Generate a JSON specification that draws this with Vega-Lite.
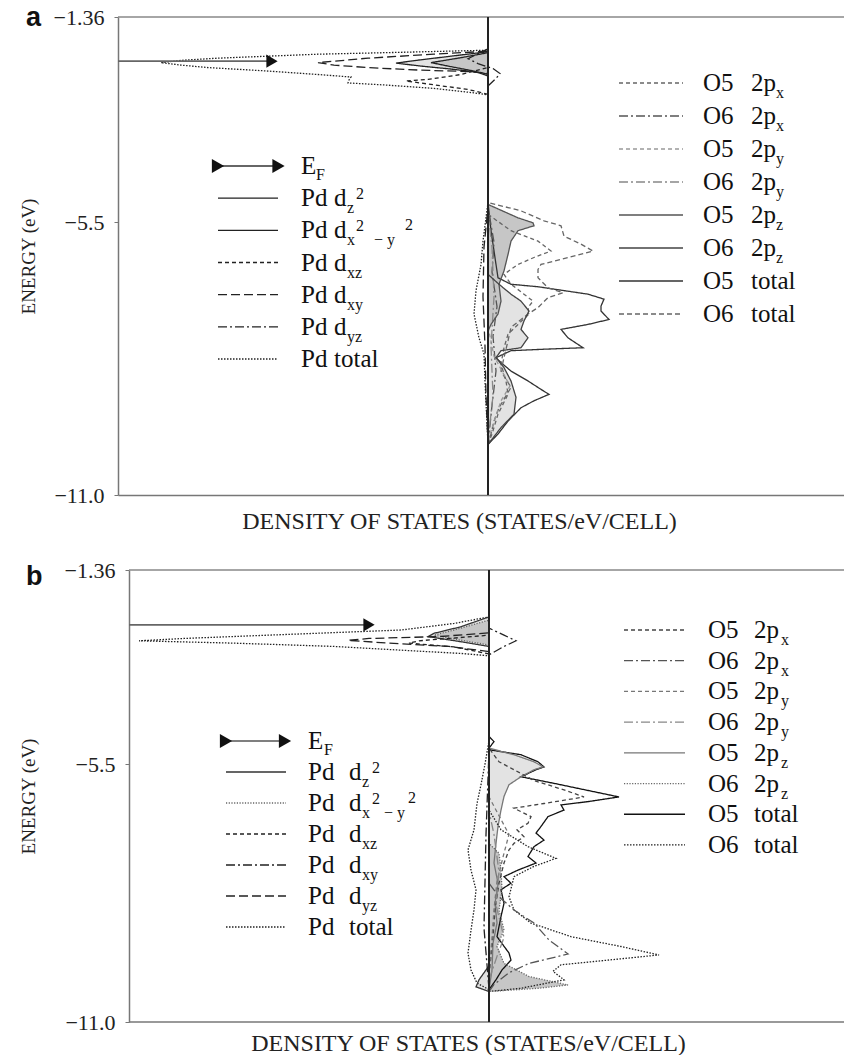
{
"$schema":"https://vega.github.io/schema/vega-lite/v6.json",
"padding":{"left":19,"top":3,"right":0,"bottom":0},
"config":{"view":{"stroke":null},"font":"Liberation Serif, DejaVu Serif, serif"},
"spacing":26,
"columns":1,
"resolve":{"scale":{"color":"independent","strokeDash":"independent"}},
"datasets":{
"ca":[
{"s":"Pd total","E":-2.03,"D":0},{"s":"Pd total","E":-2.08,"D":-10.4},{"s":"Pd total","E":-2.11,"D":-17},{"s":"Pd total","E":-2.15,"D":-22},{"s":"Pd total","E":-2.19,"D":-27},{"s":"Pd total","E":-2.23,"D":-30.4},{"s":"Pd total","E":-2.28,"D":-32.7},{"s":"Pd total","E":-2.33,"D":-30.7},{"s":"Pd total","E":-2.38,"D":-28},{"s":"Pd total","E":-2.45,"D":-22},{"s":"Pd total","E":-2.52,"D":-17},{"s":"Pd total","E":-2.57,"D":-13.7},{"s":"Pd total","E":-2.63,"D":-13.9},{"s":"Pd total","E":-2.69,"D":-14},{"s":"Pd total","E":-2.73,"D":-10.4},{"s":"Pd total","E":-2.8,"D":-5.4},{"s":"Pd total","E":-2.89,"D":-1.4},{"s":"Pd total","E":-2.93,"D":0},{"s":"Pd total","E":-5.1,"D":0},{"s":"Pd total","E":-5.88,"D":-0.5},{"s":"Pd total","E":-6.35,"D":-0.7},{"s":"Pd total","E":-6.88,"D":-1.2},{"s":"Pd total","E":-7.35,"D":-1.4},{"s":"Pd total","E":-7.83,"D":-0.9},{"s":"Pd total","E":-8.16,"D":-0.4},{"s":"Pd total","E":-8.7,"D":-0.3},{"s":"Pd total","E":-9.98,"D":0},
{"s":"Pd dz2","E":-2.06,"D":0},{"s":"Pd dz2","E":-2.15,"D":-3.7},{"s":"Pd dz2","E":-2.23,"D":-7},{"s":"Pd dz2","E":-2.29,"D":-9.2},{"s":"Pd dz2","E":-2.35,"D":-6.7},{"s":"Pd dz2","E":-2.41,"D":-3.7},{"s":"Pd dz2","E":-2.48,"D":-0.7},{"s":"Pd dz2","E":-2.52,"D":0},
{"s":"Pd dx2-y2","E":-2.08,"D":0},{"s":"Pd dx2-y2","E":-2.18,"D":-2.7},{"s":"Pd dx2-y2","E":-2.28,"D":-5.7},{"s":"Pd dx2-y2","E":-2.35,"D":-4},{"s":"Pd dx2-y2","E":-2.45,"D":-1.4},{"s":"Pd dx2-y2","E":-2.55,"D":0},
{"s":"Pd dxz","E":-2.38,"D":0},{"s":"Pd dxz","E":-2.52,"D":-2.7},{"s":"Pd dxz","E":-2.62,"D":-6},{"s":"Pd dxz","E":-2.65,"D":-8.2},{"s":"Pd dxz","E":-2.72,"D":-5.7},{"s":"Pd dxz","E":-2.82,"D":-2},{"s":"Pd dxz","E":-2.92,"D":0},
{"s":"Pd dxy","E":-2.05,"D":0},{"s":"Pd dxy","E":-2.11,"D":-5.4},{"s":"Pd dxy","E":-2.19,"D":-12},{"s":"Pd dxy","E":-2.28,"D":-17},{"s":"Pd dxy","E":-2.33,"D":-15.4},{"s":"Pd dxy","E":-2.38,"D":-12},{"s":"Pd dxy","E":-2.43,"D":-7},{"s":"Pd dxy","E":-2.46,"D":-2},{"s":"Pd dxy","E":-2.5,"D":0},{"s":"Pd dxy","E":-5.2,"D":0},{"s":"Pd dxy","E":-6,"D":-0.4},{"s":"Pd dxy","E":-7,"D":-0.5},{"s":"Pd dxy","E":-8,"D":-0.3},{"s":"Pd dxy","E":-9,"D":-0.2},{"s":"Pd dxy","E":-9.98,"D":0},
{"s":"Pd dyz","E":-2,"D":0},{"s":"Pd dyz","E":-2.1,"D":-1},{"s":"Pd dyz","E":-2.2,"D":-2},{"s":"Pd dyz","E":-2.3,"D":-1},{"s":"Pd dyz","E":-2.4,"D":0.5},{"s":"Pd dyz","E":-2.5,"D":1.2},{"s":"Pd dyz","E":-2.6,"D":0.8},{"s":"Pd dyz","E":-2.75,"D":0},
{"s":"O5 total","E":-5.1,"D":0},{"s":"O5 total","E":-5.67,"D":0.3},{"s":"O5 total","E":-6.35,"D":0.8},{"s":"O5 total","E":-6.62,"D":1},{"s":"O5 total","E":-6.75,"D":2.3},{"s":"O5 total","E":-6.8,"D":5},{"s":"O5 total","E":-6.95,"D":10},{"s":"O5 total","E":-7.05,"D":11.6},{"s":"O5 total","E":-7.19,"D":11.3},{"s":"O5 total","E":-7.29,"D":11.3},{"s":"O5 total","E":-7.46,"D":12.1},{"s":"O5 total","E":-7.56,"D":10},{"s":"O5 total","E":-7.66,"D":7.3},{"s":"O5 total","E":-7.83,"D":8},{"s":"O5 total","E":-8.03,"D":9.5},{"s":"O5 total","E":-8.06,"D":5.6},{"s":"O5 total","E":-8.09,"D":2.3},{"s":"O5 total","E":-8.23,"D":0.8},{"s":"O5 total","E":-8.33,"D":1.3},{"s":"O5 total","E":-8.5,"D":2.3},{"s":"O5 total","E":-8.7,"D":4},{"s":"O5 total","E":-8.87,"D":5.3},{"s":"O5 total","E":-8.97,"D":6.1},{"s":"O5 total","E":-9.1,"D":4.6},{"s":"O5 total","E":-9.24,"D":3.3},{"s":"O5 total","E":-9.51,"D":2},{"s":"O5 total","E":-9.77,"D":1},{"s":"O5 total","E":-9.98,"D":0},
{"s":"O6 total","E":-5.1,"D":0},{"s":"O6 total","E":-5.27,"D":3.3},{"s":"O6 total","E":-5.47,"D":5.6},{"s":"O6 total","E":-5.57,"D":7.3},{"s":"O6 total","E":-5.78,"D":7.6},{"s":"O6 total","E":-5.94,"D":9.3},{"s":"O6 total","E":-6.08,"D":10.5},{"s":"O6 total","E":-6.21,"D":8},{"s":"O6 total","E":-6.35,"D":5.3},{"s":"O6 total","E":-6.45,"D":5},{"s":"O6 total","E":-6.62,"D":5},{"s":"O6 total","E":-6.82,"D":6},{"s":"O6 total","E":-6.92,"D":7.5},{"s":"O6 total","E":-7.02,"D":6},{"s":"O6 total","E":-7.22,"D":5},{"s":"O6 total","E":-7.35,"D":4},{"s":"O6 total","E":-7.62,"D":2.3},{"s":"O6 total","E":-7.89,"D":2},{"s":"O6 total","E":-8.23,"D":1.6},{"s":"O6 total","E":-8.5,"D":1.3},{"s":"O6 total","E":-8.83,"D":2.3},{"s":"O6 total","E":-9.24,"D":1.1},{"s":"O6 total","E":-9.51,"D":0.6},{"s":"O6 total","E":-9.77,"D":0.3},{"s":"O6 total","E":-9.98,"D":0},
{"s":"O5 2px","E":-5.34,"D":0},{"s":"O5 2px","E":-5.67,"D":2.3},{"s":"O5 2px","E":-5.88,"D":5},{"s":"O5 2px","E":-6.08,"D":6.3},{"s":"O5 2px","E":-6.21,"D":4.6},{"s":"O5 2px","E":-6.35,"D":3},{"s":"O5 2px","E":-6.55,"D":1.6},{"s":"O5 2px","E":-6.75,"D":2.3},{"s":"O5 2px","E":-6.95,"D":3.6},{"s":"O5 2px","E":-7.09,"D":4.5},{"s":"O5 2px","E":-7.22,"D":4},{"s":"O5 2px","E":-7.35,"D":4.1},{"s":"O5 2px","E":-7.56,"D":3},{"s":"O5 2px","E":-7.76,"D":2},{"s":"O5 2px","E":-8.03,"D":1.6},{"s":"O5 2px","E":-8.36,"D":1.3},{"s":"O5 2px","E":-8.7,"D":1.8},{"s":"O5 2px","E":-8.97,"D":2},{"s":"O5 2px","E":-9.37,"D":1},{"s":"O5 2px","E":-9.77,"D":0.4},{"s":"O5 2px","E":-9.98,"D":0},
{"s":"O6 2px","E":-5.2,"D":0},{"s":"O6 2px","E":-5.9,"D":0.6},{"s":"O6 2px","E":-6.5,"D":0.4},{"s":"O6 2px","E":-7.2,"D":0.9},{"s":"O6 2px","E":-7.8,"D":0.5},{"s":"O6 2px","E":-8.5,"D":0.8},{"s":"O6 2px","E":-9.2,"D":0.4},{"s":"O6 2px","E":-9.98,"D":0},
{"s":"O5 2py","E":-7.6,"D":0},{"s":"O5 2py","E":-8.2,"D":0.6},{"s":"O5 2py","E":-8.8,"D":2.2},{"s":"O5 2py","E":-9.1,"D":1.3},{"s":"O5 2py","E":-9.4,"D":0.8},{"s":"O5 2py","E":-9.9,"D":0},
{"s":"O6 2py","E":-5.3,"D":0},{"s":"O6 2py","E":-6,"D":0.4},{"s":"O6 2py","E":-7,"D":0.6},{"s":"O6 2py","E":-8,"D":0.3},{"s":"O6 2py","E":-9,"D":0.5},{"s":"O6 2py","E":-9.9,"D":0},
{"s":"O5 2pz","E":-5.14,"D":0},{"s":"O5 2pz","E":-5.41,"D":3},{"s":"O5 2pz","E":-5.51,"D":4.5},{"s":"O5 2pz","E":-5.57,"D":4.6},{"s":"O5 2pz","E":-5.67,"D":3},{"s":"O5 2pz","E":-5.88,"D":2.3},{"s":"O5 2pz","E":-6.15,"D":2},{"s":"O5 2pz","E":-6.48,"D":1.6},{"s":"O5 2pz","E":-6.75,"D":1.1},{"s":"O5 2pz","E":-7.09,"D":1.3},{"s":"O5 2pz","E":-7.35,"D":1},{"s":"O5 2pz","E":-7.56,"D":0.3},{"s":"O5 2pz","E":-7.69,"D":0},
{"s":"O6 2pz","E":-6.55,"D":0},{"s":"O6 2pz","E":-6.75,"D":1.1},{"s":"O6 2pz","E":-6.95,"D":2.3},{"s":"O6 2pz","E":-7.09,"D":3.3},{"s":"O6 2pz","E":-7.29,"D":4.1},{"s":"O6 2pz","E":-7.49,"D":3.6},{"s":"O6 2pz","E":-7.66,"D":3.3},{"s":"O6 2pz","E":-7.83,"D":4},{"s":"O6 2pz","E":-8.03,"D":3.3},{"s":"O6 2pz","E":-8.09,"D":1.3},{"s":"O6 2pz","E":-8.23,"D":0.8},{"s":"O6 2pz","E":-8.43,"D":1.6},{"s":"O6 2pz","E":-8.7,"D":2.3},{"s":"O6 2pz","E":-9.03,"D":2.8},{"s":"O6 2pz","E":-9.37,"D":2.6},{"s":"O6 2pz","E":-9.64,"D":1.3},{"s":"O6 2pz","E":-9.98,"D":0}
],
"cb":[
{"s":"Pd total","E":-2.36,"D":0},{"s":"Pd total","E":-2.5,"D":-3.5},{"s":"Pd total","E":-2.64,"D":-8.8},{"s":"Pd total","E":-2.75,"D":-22.1},{"s":"Pd total","E":-2.82,"D":-30.5},{"s":"Pd total","E":-2.87,"D":-35},{"s":"Pd total","E":-2.92,"D":-25.5},{"s":"Pd total","E":-2.99,"D":-15.5},{"s":"Pd total","E":-3.07,"D":-8.8},{"s":"Pd total","E":-3.14,"D":-2.8},{"s":"Pd total","E":-3.19,"D":0},{"s":"Pd total","E":-5,"D":0},{"s":"Pd total","E":-5.5,"D":-0.4},{"s":"Pd total","E":-5.94,"D":-0.8},{"s":"Pd total","E":-6.34,"D":-1.2},{"s":"Pd total","E":-6.9,"D":-1.5},{"s":"Pd total","E":-7.33,"D":-2.1},{"s":"Pd total","E":-7.76,"D":-1.8},{"s":"Pd total","E":-8.18,"D":-1.3},{"s":"Pd total","E":-8.61,"D":-1.5},{"s":"Pd total","E":-9.04,"D":-1.8},{"s":"Pd total","E":-9.53,"D":-2.1},{"s":"Pd total","E":-9.89,"D":-1.8},{"s":"Pd total","E":-10.17,"D":-1.2},{"s":"Pd total","E":-10.31,"D":0},
{"s":"Pd dz2","E":-2.36,"D":0},{"s":"Pd dz2","E":-2.57,"D":-2.8},{"s":"Pd dz2","E":-2.71,"D":-5.5},{"s":"Pd dz2","E":-2.78,"D":-6.1},{"s":"Pd dz2","E":-2.89,"D":-2.8},{"s":"Pd dz2","E":-2.99,"D":0},{"s":"Pd dz2","E":-9.8,"D":0},{"s":"Pd dz2","E":-10.1,"D":-1},{"s":"Pd dz2","E":-10.25,"D":-1.3},{"s":"Pd dz2","E":-10.35,"D":0},
{"s":"Pd dx2-y2","E":-2.43,"D":0},{"s":"Pd dx2-y2","E":-2.64,"D":-3.5},{"s":"Pd dx2-y2","E":-2.75,"D":-5.5},{"s":"Pd dx2-y2","E":-2.85,"D":-3},{"s":"Pd dx2-y2","E":-2.96,"D":0},
{"s":"Pd dxz","E":-2.75,"D":0},{"s":"Pd dxz","E":-2.82,"D":-4},{"s":"Pd dxz","E":-2.87,"D":-7},{"s":"Pd dxz","E":-2.92,"D":-8},{"s":"Pd dxz","E":-3,"D":-3.5},{"s":"Pd dxz","E":-3.15,"D":0},
{"s":"Pd dxy","E":-2.6,"D":0},{"s":"Pd dxy","E":-2.75,"D":1.5},{"s":"Pd dxy","E":-2.87,"D":2.7},{"s":"Pd dxy","E":-2.99,"D":1.5},{"s":"Pd dxy","E":-3.17,"D":0},{"s":"Pd dxy","E":-5.2,"D":0},{"s":"Pd dxy","E":-7,"D":-0.3},{"s":"Pd dxy","E":-9,"D":-0.5},{"s":"Pd dxy","E":-10.3,"D":0},
{"s":"Pd dyz","E":-2.7,"D":0},{"s":"Pd dyz","E":-2.78,"D":-5},{"s":"Pd dyz","E":-2.82,"D":-12},{"s":"Pd dyz","E":-2.86,"D":-14.1},{"s":"Pd dyz","E":-2.92,"D":-10},{"s":"Pd dyz","E":-2.99,"D":-4},{"s":"Pd dyz","E":-3.1,"D":0},
{"s":"O5 total","E":-4.91,"D":0},{"s":"O5 total","E":-5.02,"D":0.5},{"s":"O5 total","E":-5.16,"D":0},{"s":"O5 total","E":-5.2,"D":0.2},{"s":"O5 total","E":-5.3,"D":3.2},{"s":"O5 total","E":-5.45,"D":4.9},{"s":"O5 total","E":-5.56,"D":5.5},{"s":"O5 total","E":-5.62,"D":4.7},{"s":"O5 total","E":-5.77,"D":3.2},{"s":"O5 total","E":-5.91,"D":6.5},{"s":"O5 total","E":-6.2,"D":13},{"s":"O5 total","E":-6.3,"D":9.9},{"s":"O5 total","E":-6.37,"D":7.2},{"s":"O5 total","E":-6.48,"D":7.5},{"s":"O5 total","E":-6.62,"D":5.9},{"s":"O5 total","E":-6.83,"D":5.2},{"s":"O5 total","E":-6.97,"D":4.7},{"s":"O5 total","E":-7.12,"D":5.5},{"s":"O5 total","E":-7.26,"D":4.5},{"s":"O5 total","E":-7.47,"D":3.9},{"s":"O5 total","E":-7.61,"D":4.7},{"s":"O5 total","E":-7.76,"D":2.9},{"s":"O5 total","E":-7.9,"D":1.5},{"s":"O5 total","E":-8.04,"D":2.2},{"s":"O5 total","E":-8.18,"D":1.2},{"s":"O5 total","E":-8.47,"D":1.5},{"s":"O5 total","E":-8.75,"D":1.2},{"s":"O5 total","E":-9.18,"D":0.8},{"s":"O5 total","E":-9.53,"D":2},{"s":"O5 total","E":-9.68,"D":2.2},{"s":"O5 total","E":-9.89,"D":1.3},{"s":"O5 total","E":-10.1,"D":0.7},{"s":"O5 total","E":-10.31,"D":0},
{"s":"O5 2pz","E":-5.16,"D":0},{"s":"O5 2pz","E":-5.3,"D":2.5},{"s":"O5 2pz","E":-5.45,"D":4.5},{"s":"O5 2pz","E":-5.56,"D":5.4},{"s":"O5 2pz","E":-5.62,"D":4.5},{"s":"O5 2pz","E":-5.77,"D":3.2},{"s":"O5 2pz","E":-5.94,"D":2},{"s":"O5 2pz","E":-6.19,"D":1.5},{"s":"O5 2pz","E":-6.48,"D":1.2},{"s":"O5 2pz","E":-6.83,"D":0.9},{"s":"O5 2pz","E":-7.19,"D":0.7},{"s":"O5 2pz","E":-7.61,"D":0.5},{"s":"O5 2pz","E":-8.04,"D":0.9},{"s":"O5 2pz","E":-8.47,"D":0.6},{"s":"O5 2pz","E":-8.89,"D":0.8},{"s":"O5 2pz","E":-9.32,"D":0.4},{"s":"O5 2pz","E":-9.89,"D":0.3},{"s":"O5 2pz","E":-10.31,"D":0},
{"s":"O5 2px","E":-5.16,"D":0},{"s":"O5 2px","E":-5.45,"D":1},{"s":"O5 2px","E":-5.62,"D":2.5},{"s":"O5 2px","E":-5.85,"D":4.5},{"s":"O5 2px","E":-6.05,"D":7.5},{"s":"O5 2px","E":-6.2,"D":9.5},{"s":"O5 2px","E":-6.34,"D":5.5},{"s":"O5 2px","E":-6.44,"D":2.5},{"s":"O5 2px","E":-6.62,"D":4.2},{"s":"O5 2px","E":-6.76,"D":3.9},{"s":"O5 2px","E":-6.9,"D":2.8},{"s":"O5 2px","E":-7.05,"D":3.5},{"s":"O5 2px","E":-7.19,"D":2.5},{"s":"O5 2px","E":-7.33,"D":2},{"s":"O5 2px","E":-7.61,"D":1.5},{"s":"O5 2px","E":-8.04,"D":1},{"s":"O5 2px","E":-8.61,"D":0.6},{"s":"O5 2px","E":-9.18,"D":0.4},{"s":"O5 2px","E":-10,"D":0},
{"s":"O6 total","E":-6.48,"D":0},{"s":"O6 total","E":-6.9,"D":1.2},{"s":"O6 total","E":-7.26,"D":3.9},{"s":"O6 total","E":-7.51,"D":6.7},{"s":"O6 total","E":-7.68,"D":4.5},{"s":"O6 total","E":-7.9,"D":2.5},{"s":"O6 total","E":-8.33,"D":2},{"s":"O6 total","E":-8.61,"D":2.5},{"s":"O6 total","E":-8.89,"D":4.2},{"s":"O6 total","E":-9.18,"D":8.2},{"s":"O6 total","E":-9.39,"D":13.2},{"s":"O6 total","E":-9.57,"D":17},{"s":"O6 total","E":-9.68,"D":11.9},{"s":"O6 total","E":-9.78,"D":7.2},{"s":"O6 total","E":-9.92,"D":6.4},{"s":"O6 total","E":-10.1,"D":7.5},{"s":"O6 total","E":-10.28,"D":3.2},{"s":"O6 total","E":-10.35,"D":0},
{"s":"O6 2px","E":-8.04,"D":0},{"s":"O6 2px","E":-8.33,"D":1},{"s":"O6 2px","E":-8.61,"D":2.5},{"s":"O6 2px","E":-8.89,"D":4.5},{"s":"O6 2px","E":-9.25,"D":6},{"s":"O6 2px","E":-9.55,"D":7.9},{"s":"O6 2px","E":-9.75,"D":4},{"s":"O6 2px","E":-9.95,"D":2},{"s":"O6 2px","E":-10.2,"D":0.5},{"s":"O6 2px","E":-10.35,"D":0},
{"s":"O6 2pz","E":-7.19,"D":0},{"s":"O6 2pz","E":-7.4,"D":1},{"s":"O6 2pz","E":-7.76,"D":1.2},{"s":"O6 2pz","E":-8.18,"D":1.3},{"s":"O6 2pz","E":-8.61,"D":1},{"s":"O6 2pz","E":-9.04,"D":1.5},{"s":"O6 2pz","E":-9.39,"D":0.8},{"s":"O6 2pz","E":-9.75,"D":1.5},{"s":"O6 2pz","E":-10.03,"D":4},{"s":"O6 2pz","E":-10.21,"D":7.9},{"s":"O6 2pz","E":-10.28,"D":5},{"s":"O6 2pz","E":-10.35,"D":0},
{"s":"O5 2py","E":-6.2,"D":0},{"s":"O5 2py","E":-6.6,"D":1},{"s":"O5 2py","E":-7,"D":2},{"s":"O5 2py","E":-7.4,"D":1.5},{"s":"O5 2py","E":-8,"D":0.8},{"s":"O5 2py","E":-8.6,"D":0.5},{"s":"O5 2py","E":-9.2,"D":0.3},{"s":"O5 2py","E":-10,"D":0},
{"s":"O6 2py","E":-6.5,"D":0},{"s":"O6 2py","E":-7,"D":0.5},{"s":"O6 2py","E":-7.8,"D":1},{"s":"O6 2py","E":-8.5,"D":0.7},{"s":"O6 2py","E":-9.2,"D":1.5},{"s":"O6 2py","E":-9.6,"D":0.8},{"s":"O6 2py","E":-10.1,"D":0}
],
"lp":[
{"r":0,"s":"","t1":"E","sf":"F","t2":"","sub":"","sup":"","sub2":"","sup2":""},
{"r":1,"s":"Pd dz2","t1":"Pd","sf":"","t2":"d","sub":"z","sup":"2","sub2":"","sup2":""},
{"r":2,"s":"Pd dx2-y2","t1":"Pd","sf":"","t2":"d","sub":"x","sup":"2","sub2":"− y","sup2":"2"},
{"r":3,"s":"Pd dxz","t1":"Pd","sf":"","t2":"d","sub":"xz","sup":"","sub2":"","sup2":""},
{"r":4,"s":"Pd dxy","t1":"Pd","sf":"","t2":"d","sub":"xy","sup":"","sub2":"","sup2":""},
{"r":5,"s":"Pd dyz","t1":"Pd","sf":"","t2":"d","sub":"yz","sup":"","sub2":"","sup2":""},
{"r":6,"s":"Pd total","t1":"Pd","sf":"","t2":"total","sub":"","sup":"","sub2":"","sup2":""}
],
"lo":[
{"r":0,"s":"O5 2px","t1":"O5","t2":"2p","sub":"x"},
{"r":1,"s":"O6 2px","t1":"O6","t2":"2p","sub":"x"},
{"r":2,"s":"O5 2py","t1":"O5","t2":"2p","sub":"y"},
{"r":3,"s":"O6 2py","t1":"O6","t2":"2p","sub":"y"},
{"r":4,"s":"O5 2pz","t1":"O5","t2":"2p","sub":"z"},
{"r":5,"s":"O6 2pz","t1":"O6","t2":"2p","sub":"z"},
{"r":6,"s":"O5 total","t1":"O5","t2":"total","sub":""},
{"r":7,"s":"O6 total","t1":"O6","t2":"total","sub":""}
]
},
"concat":[
{
"width":727,"height":478,
"resolve":{"scale":{"y":"independent"}},
"layer":[
{"data":{"name":"ca"},"transform":[{"filter":"datum.s=='Pd dz2'||datum.s=='O6 2pz'"}],
"mark":{"type":"area","orient":"horizontal","fill":"#e3e3e3"},
"encoding":{"x":{"field":"D","type":"quantitative","stack":null,"scale":{"domain":[-37,35.7],"nice":false,"zero":false}},"x2":{"datum":0},"y":{"field":"E","type":"quantitative","scale":{"domain":[-11,-1.36],"nice":false,"zero":false},"axis":null},"detail":{"field":"s"}}},
{"data":{"name":"ca"},"transform":[{"filter":"datum.s=='Pd dx2-y2'||datum.s=='O5 2pz'"}],
"mark":{"type":"area","orient":"horizontal","fill":"#c6c6c6"},
"encoding":{"x":{"field":"D","type":"quantitative","stack":null,"scale":{"domain":[-37,35.7],"nice":false,"zero":false}},"x2":{"datum":0},"y":{"field":"E","type":"quantitative","scale":{"domain":[-11,-1.36],"nice":false,"zero":false},"axis":null},"detail":{"field":"s"}}},
{"data":{"name":"ca"},"mark":{"type":"line","strokeWidth":1.3},
"encoding":{
"x":{"field":"D","type":"quantitative","scale":{"domain":[-37,35.7],"nice":false,"zero":false},"axis":{"labels":false,"ticks":false,"grid":false,"domain":true,"domainColor":"#777","domainWidth":1.5,"title":"DENSITY OF STATES (STATES/eV/CELL)","titleFont":"Liberation Serif, DejaVu Serif, serif","titleFontSize":24,"titleFontWeight":"normal","titleColor":"#222","titlePadding":14,"titleX":341}},
"y":{"field":"E","type":"quantitative","scale":{"domain":[-11,-1.36],"nice":false,"zero":false},"axis":{"orient":"left","values":[-11,-5.5,-1.36],"labelExpr":"datum.value == -1.36 ? '−1.36' : format(datum.value, '.1f')","labelFont":"Liberation Serif, DejaVu Serif, serif","labelFontSize":22,"labelColor":"#222","labelPadding":10,"tickSize":4,"tickColor":"#777","domainColor":"#777","domainWidth":1.5,"grid":false,"title":"ENERGY (eV)","titleFont":"Liberation Serif, DejaVu Serif, serif","titleFontSize":19,"titleFontWeight":"normal","titleColor":"#222","titlePadding":15}},
"order":{"field":"E","type":"quantitative"},
"color":{"field":"s","type":"nominal","legend":null,"scale":{"domain":["Pd dz2","Pd dx2-y2","Pd dxz","Pd dxy","Pd dyz","Pd total","O5 2px","O6 2px","O5 2py","O6 2py","O5 2pz","O6 2pz","O5 total","O6 total"],"range":["#222","#222","#222","#222","#222","#222","#666","#555","#999","#888","#555","#444","#333","#666"]}},
"strokeDash":{"field":"s","type":"nominal","legend":null,"scale":{"domain":["Pd dz2","Pd dx2-y2","Pd dxz","Pd dxy","Pd dyz","Pd total","O5 2px","O6 2px","O5 2py","O6 2py","O5 2pz","O6 2pz","O5 total","O6 total"],"range":[[1,0],[1,0],[4,3],[9,4],[9,3,2,3],[1.5,1.5],[4,3],[9,3,2,3],[4,3],[9,3,2,3],[1,0],[1,0],[1,0],[5,3]]}}}},
{"data":{"values":[{}]},"mark":{"type":"rule","color":"#888","strokeWidth":1.5},"encoding":{"y":{"datum":-1.36,"scale":{"domain":[-11,-1.36],"nice":false,"zero":false},"axis":null}}},
{"data":{"values":[{}]},"mark":{"type":"rule","color":"#222","strokeWidth":2},"encoding":{"x":{"datum":0,"scale":{"domain":[-37,35.7],"nice":false,"zero":false}}}},
{"data":{"values":[{}]},"mark":{"type":"rule","color":"#666","strokeWidth":1.8},"encoding":{"x":{"datum":-37,"scale":{"domain":[-37,35.7],"nice":false,"zero":false}},"x2":{"datum":-21.6},"y":{"datum":-2.25,"scale":{"domain":[-11,-1.36],"nice":false,"zero":false},"axis":null}}},
{"data":{"values":[{}]},"mark":{"type":"point","shape":"triangle-right","filled":true,"color":"#111","opacity":1,"size":170},"encoding":{"x":{"datum":-21.6,"scale":{"domain":[-37,35.7],"nice":false,"zero":false}},"y":{"datum":-2.25,"scale":{"domain":[-11,-1.36],"nice":false,"zero":false},"axis":null}}},
{"data":{"values":[{}]},"mark":{"type":"text","text":"a","font":"Liberation Sans","fontWeight":"bold","fontSize":27,"align":"left","baseline":"alphabetic","color":"#111"},"encoding":{"x":{"datum":-46.2,"scale":{"domain":[-37,35.7],"nice":false,"zero":false}},"y":{"datum":-1.54,"scale":{"domain":[-11,-1.36],"nice":false,"zero":false},"axis":null}}},
{"data":{"name":"lp"},"transform":[{"filter":"datum.s != ''"}],"mark":{"type":"rule","strokeWidth":1.3},
"encoding":{"x":{"datum":-27,"scale":{"domain":[-37,35.7],"nice":false,"zero":false}},"x2":{"datum":-21},"y":{"field":"r","type":"quantitative","scale":{"domain":[10.227,-4.632],"nice":false,"zero":false},"axis":null},
"color":{"field":"s","type":"nominal","legend":null,"scale":{"domain":["Pd dz2","Pd dx2-y2","Pd dxz","Pd dxy","Pd dyz","Pd total","O5 2px","O6 2px","O5 2py","O6 2py","O5 2pz","O6 2pz","O5 total","O6 total"],"range":["#222","#222","#222","#222","#222","#222","#666","#555","#999","#888","#555","#444","#333","#666"]}},
"strokeDash":{"field":"s","type":"nominal","legend":null,"scale":{"domain":["Pd dz2","Pd dx2-y2","Pd dxz","Pd dxy","Pd dyz","Pd total","O5 2px","O6 2px","O5 2py","O6 2py","O5 2pz","O6 2pz","O5 total","O6 total"],"range":[[1,0],[1,0],[4,3],[9,4],[9,3,2,3],[1.5,1.5],[4,3],[9,3,2,3],[4,3],[9,3,2,3],[1,0],[1,0],[1,0],[5,3]]}}}},
{"data":{"values":[{}]},"mark":{"type":"rule","color":"#333","strokeWidth":1.5},"encoding":{"x":{"datum":-27,"scale":{"domain":[-37,35.7],"nice":false,"zero":false}},"x2":{"datum":-20.95},"y":{"datum":0,"scale":{"domain":[10.227,-4.632],"nice":false,"zero":false},"axis":null}}},
{"data":{"values":[{}]},"mark":{"type":"point","shape":"triangle-right","filled":true,"color":"#111","opacity":1,"size":200},"encoding":{"x":{"datum":-27,"scale":{"domain":[-37,35.7],"nice":false,"zero":false}},"y":{"datum":0,"scale":{"domain":[10.227,-4.632],"nice":false,"zero":false},"axis":null}}},
{"data":{"values":[{}]},"mark":{"type":"point","shape":"triangle-right","filled":true,"color":"#111","opacity":1,"size":200},"encoding":{"x":{"datum":-20.95,"scale":{"domain":[-37,35.7],"nice":false,"zero":false}},"y":{"datum":0,"scale":{"domain":[10.227,-4.632],"nice":false,"zero":false},"axis":null}}},
{"data":{"name":"lp"},"mark":{"type":"text","align":"left","baseline":"middle","fontSize":25,"color":"#111","font":"Liberation Serif, DejaVu Serif, serif"},"encoding":{"x":{"datum":-18.7,"scale":{"domain":[-37,35.7],"nice":false,"zero":false}},"y":{"field":"r","type":"quantitative","scale":{"domain":[10.227,-4.632],"nice":false,"zero":false},"axis":null},"text":{"field":"t1","type":"nominal"}}},
{"data":{"name":"lp"},"mark":{"type":"text","align":"left","baseline":"middle","fontSize":25,"color":"#111","font":"Liberation Serif, DejaVu Serif, serif"},"encoding":{"x":{"datum":-15.4,"scale":{"domain":[-37,35.7],"nice":false,"zero":false}},"y":{"field":"r","type":"quantitative","scale":{"domain":[10.227,-4.632],"nice":false,"zero":false},"axis":null},"text":{"field":"t2","type":"nominal"}}},
{"data":{"name":"lp"},"mark":{"type":"text","align":"left","baseline":"middle","fontSize":16,"dy":9,"color":"#111","font":"Liberation Serif, DejaVu Serif, serif"},"encoding":{"x":{"datum":-17.2,"scale":{"domain":[-37,35.7],"nice":false,"zero":false}},"y":{"field":"r","type":"quantitative","scale":{"domain":[10.227,-4.632],"nice":false,"zero":false},"axis":null},"text":{"field":"sf","type":"nominal"}}},
{"data":{"name":"lp"},"mark":{"type":"text","align":"left","baseline":"middle","fontSize":16,"dy":10,"color":"#111","font":"Liberation Serif, DejaVu Serif, serif"},"encoding":{"x":{"datum":-14.1,"scale":{"domain":[-37,35.7],"nice":false,"zero":false}},"y":{"field":"r","type":"quantitative","scale":{"domain":[10.227,-4.632],"nice":false,"zero":false},"axis":null},"text":{"field":"sub","type":"nominal"}}},
{"data":{"name":"lp"},"mark":{"type":"text","align":"left","baseline":"middle","fontSize":16,"dy":-4,"color":"#111","font":"Liberation Serif, DejaVu Serif, serif"},"encoding":{"x":{"datum":-13.2,"scale":{"domain":[-37,35.7],"nice":false,"zero":false}},"y":{"field":"r","type":"quantitative","scale":{"domain":[10.227,-4.632],"nice":false,"zero":false},"axis":null},"text":{"field":"sup","type":"nominal"}}},
{"data":{"name":"lp"},"mark":{"type":"text","align":"left","baseline":"middle","fontSize":16,"dy":10,"color":"#111","font":"Liberation Serif, DejaVu Serif, serif"},"encoding":{"x":{"datum":-11.4,"scale":{"domain":[-37,35.7],"nice":false,"zero":false}},"y":{"field":"r","type":"quantitative","scale":{"domain":[10.227,-4.632],"nice":false,"zero":false},"axis":null},"text":{"field":"sub2","type":"nominal"}}},
{"data":{"name":"lp"},"mark":{"type":"text","align":"left","baseline":"middle","fontSize":16,"dy":-5,"color":"#111","font":"Liberation Serif, DejaVu Serif, serif"},"encoding":{"x":{"datum":-8.3,"scale":{"domain":[-37,35.7],"nice":false,"zero":false}},"y":{"field":"r","type":"quantitative","scale":{"domain":[10.227,-4.632],"nice":false,"zero":false},"axis":null},"text":{"field":"sup2","type":"nominal"}}},
{"data":{"name":"lo"},"mark":{"type":"rule","strokeWidth":1.3},
"encoding":{"x":{"datum":13.1,"scale":{"domain":[-37,35.7],"nice":false,"zero":false}},"x2":{"datum":19.5},"y":{"field":"r","type":"quantitative","scale":{"domain":[12.485,-2.0],"nice":false,"zero":false},"axis":null},
"color":{"field":"s","type":"nominal","legend":null,"scale":{"domain":["Pd dz2","Pd dx2-y2","Pd dxz","Pd dxy","Pd dyz","Pd total","O5 2px","O6 2px","O5 2py","O6 2py","O5 2pz","O6 2pz","O5 total","O6 total"],"range":["#222","#222","#222","#222","#222","#222","#666","#555","#999","#888","#555","#444","#333","#666"]}},
"strokeDash":{"field":"s","type":"nominal","legend":null,"scale":{"domain":["Pd dz2","Pd dx2-y2","Pd dxz","Pd dxy","Pd dyz","Pd total","O5 2px","O6 2px","O5 2py","O6 2py","O5 2pz","O6 2pz","O5 total","O6 total"],"range":[[1,0],[1,0],[4,3],[9,4],[9,3,2,3],[1.5,1.5],[4,3],[9,3,2,3],[4,3],[9,3,2,3],[1,0],[1,0],[1,0],[5,3]]}}}},
{"data":{"name":"lo"},"mark":{"type":"text","align":"left","baseline":"middle","fontSize":25,"color":"#111","font":"Liberation Serif, DejaVu Serif, serif"},"encoding":{"x":{"datum":21.5,"scale":{"domain":[-37,35.7],"nice":false,"zero":false}},"y":{"field":"r","type":"quantitative","scale":{"domain":[12.485,-2.0],"nice":false,"zero":false},"axis":null},"text":{"field":"t1","type":"nominal"}}},
{"data":{"name":"lo"},"mark":{"type":"text","align":"left","baseline":"middle","fontSize":25,"color":"#111","font":"Liberation Serif, DejaVu Serif, serif"},"encoding":{"x":{"datum":26.3,"scale":{"domain":[-37,35.7],"nice":false,"zero":false}},"y":{"field":"r","type":"quantitative","scale":{"domain":[12.485,-2.0],"nice":false,"zero":false},"axis":null},"text":{"field":"t2","type":"nominal"}}},
{"data":{"name":"lo"},"mark":{"type":"text","align":"left","baseline":"middle","fontSize":16,"dy":10,"color":"#111","font":"Liberation Serif, DejaVu Serif, serif"},"encoding":{"x":{"datum":28.8,"scale":{"domain":[-37,35.7],"nice":false,"zero":false}},"y":{"field":"r","type":"quantitative","scale":{"domain":[12.485,-2.0],"nice":false,"zero":false},"axis":null},"text":{"field":"sub","type":"nominal"}}}
]
},
{
"width":727,"height":452,
"resolve":{"scale":{"y":"independent"}},
"layer":[
{"data":{"name":"cb"},"transform":[{"filter":"datum.s=='Pd dz2'||datum.s=='O5 2pz'"}],
"mark":{"type":"area","orient":"horizontal","fill":"#e3e3e3"},
"encoding":{"x":{"field":"D","type":"quantitative","stack":null,"scale":{"domain":[-37.1,35.6],"nice":false,"zero":false}},"x2":{"datum":0},"y":{"field":"E","type":"quantitative","scale":{"domain":[-11,-1.36],"nice":false,"zero":false},"axis":null},"detail":{"field":"s"}}},
{"data":{"name":"cb"},"transform":[{"filter":"datum.s=='Pd dx2-y2'||datum.s=='O6 2pz'"}],
"mark":{"type":"area","orient":"horizontal","fill":"#c6c6c6"},
"encoding":{"x":{"field":"D","type":"quantitative","stack":null,"scale":{"domain":[-37.1,35.6],"nice":false,"zero":false}},"x2":{"datum":0},"y":{"field":"E","type":"quantitative","scale":{"domain":[-11,-1.36],"nice":false,"zero":false},"axis":null},"detail":{"field":"s"}}},
{"data":{"name":"cb"},"mark":{"type":"line","strokeWidth":1.3},
"encoding":{
"x":{"field":"D","type":"quantitative","scale":{"domain":[-37.1,35.6],"nice":false,"zero":false},"axis":{"labels":false,"ticks":false,"grid":false,"domain":false,"title":"DENSITY OF STATES (STATES/eV/CELL)","titleFont":"Liberation Serif, DejaVu Serif, serif","titleFontSize":24,"titleFontWeight":"normal","titleColor":"#222","titlePadding":9,"titleX":350}},
"y":{"field":"E","type":"quantitative","scale":{"domain":[-11,-1.36],"nice":false,"zero":false},"axis":{"orient":"left","offset":-11,"values":[-11,-5.5,-1.36],"labelExpr":"datum.value == -1.36 ? '−1.36' : format(datum.value, '.1f')","labelFont":"Liberation Serif, DejaVu Serif, serif","labelFontSize":22,"labelColor":"#222","labelPadding":10,"tickSize":4,"tickColor":"#777","domainColor":"#777","domainWidth":1.5,"grid":false,"title":"ENERGY (eV)","titleFont":"Liberation Serif, DejaVu Serif, serif","titleFontSize":19,"titleFontWeight":"normal","titleColor":"#222","titlePadding":26}},
"order":{"field":"E","type":"quantitative"},
"color":{"field":"s","type":"nominal","legend":null,"scale":{"domain":["Pd dz2","Pd dx2-y2","Pd dxz","Pd dxy","Pd dyz","Pd total","O5 2px","O6 2px","O5 2py","O6 2py","O5 2pz","O6 2pz","O5 total","O6 total"],"range":["#333","#666","#222","#222","#222","#222","#444","#555","#777","#888","#777","#666","#111","#222"]}},
"strokeDash":{"field":"s","type":"nominal","legend":null,"scale":{"domain":["Pd dz2","Pd dx2-y2","Pd dxz","Pd dxy","Pd dyz","Pd total","O5 2px","O6 2px","O5 2py","O6 2py","O5 2pz","O6 2pz","O5 total","O6 total"],"range":[[1,0],[1.2,1.5],[4,3],[9,3,2,3],[9,4],[1.5,1.5],[4,3],[9,3,2,3],[4,3],[9,3,2,3],[1,0],[1.2,1.5],[1,0],[1.5,1.5]]}}}},
{"data":{"values":[{}]},"mark":{"type":"rule","color":"#888","strokeWidth":1.5},"encoding":{"x":{"datum":-36,"scale":{"domain":[-37.1,35.6],"nice":false,"zero":false}},"x2":{"datum":35.6},"y":{"datum":-1.36,"scale":{"domain":[-11,-1.36],"nice":false,"zero":false},"axis":null}}},
{"data":{"values":[{}]},"mark":{"type":"rule","color":"#777","strokeWidth":1.5},"encoding":{"x":{"datum":-36,"scale":{"domain":[-37.1,35.6],"nice":false,"zero":false}},"x2":{"datum":35.6},"y":{"datum":-11,"scale":{"domain":[-11,-1.36],"nice":false,"zero":false},"axis":null}}},
{"data":{"values":[{}]},"mark":{"type":"rule","color":"#222","strokeWidth":2},"encoding":{"x":{"datum":0,"scale":{"domain":[-37.1,35.6],"nice":false,"zero":false}}}},
{"data":{"values":[{}]},"mark":{"type":"rule","color":"#666","strokeWidth":1.8},"encoding":{"x":{"datum":-36,"scale":{"domain":[-37.1,35.6],"nice":false,"zero":false}},"x2":{"datum":-12},"y":{"datum":-2.53,"scale":{"domain":[-11,-1.36],"nice":false,"zero":false},"axis":null}}},
{"data":{"values":[{}]},"mark":{"type":"point","shape":"triangle-right","filled":true,"color":"#111","opacity":1,"size":170},"encoding":{"x":{"datum":-12,"scale":{"domain":[-37.1,35.6],"nice":false,"zero":false}},"y":{"datum":-2.53,"scale":{"domain":[-11,-1.36],"nice":false,"zero":false},"axis":null}}},
{"data":{"values":[{}]},"mark":{"type":"text","text":"b","font":"Liberation Sans","fontWeight":"bold","fontSize":27,"align":"left","baseline":"alphabetic","color":"#111"},"encoding":{"x":{"datum":-46.3,"scale":{"domain":[-37.1,35.6],"nice":false,"zero":false}},"y":{"datum":-1.68,"scale":{"domain":[-11,-1.36],"nice":false,"zero":false},"axis":null}}},
{"data":{"name":"lp"},"transform":[{"filter":"datum.s != ''"}],"mark":{"type":"rule","strokeWidth":1.3},
"encoding":{"x":{"datum":-26.3,"scale":{"domain":[-37.1,35.6],"nice":false,"zero":false}},"x2":{"datum":-20.3},"y":{"field":"r","type":"quantitative","scale":{"domain":[9.065,-5.516],"nice":false,"zero":false},"axis":null},
"color":{"field":"s","type":"nominal","legend":null,"scale":{"domain":["Pd dz2","Pd dx2-y2","Pd dxz","Pd dxy","Pd dyz","Pd total","O5 2px","O6 2px","O5 2py","O6 2py","O5 2pz","O6 2pz","O5 total","O6 total"],"range":["#333","#666","#222","#222","#222","#222","#444","#555","#777","#888","#777","#666","#111","#222"]}},
"strokeDash":{"field":"s","type":"nominal","legend":null,"scale":{"domain":["Pd dz2","Pd dx2-y2","Pd dxz","Pd dxy","Pd dyz","Pd total","O5 2px","O6 2px","O5 2py","O6 2py","O5 2pz","O6 2pz","O5 total","O6 total"],"range":[[1,0],[1.2,1.5],[4,3],[9,3,2,3],[9,4],[1.5,1.5],[4,3],[9,3,2,3],[4,3],[9,3,2,3],[1,0],[1.2,1.5],[1,0],[1.5,1.5]]}}}},
{"data":{"values":[{}]},"mark":{"type":"rule","color":"#555","strokeWidth":1.5},"encoding":{"x":{"datum":-26.3,"scale":{"domain":[-37.1,35.6],"nice":false,"zero":false}},"x2":{"datum":-20.4},"y":{"datum":0,"scale":{"domain":[9.065,-5.516],"nice":false,"zero":false},"axis":null}}},
{"data":{"values":[{}]},"mark":{"type":"point","shape":"triangle-right","filled":true,"color":"#111","opacity":1,"size":200},"encoding":{"x":{"datum":-26.3,"scale":{"domain":[-37.1,35.6],"nice":false,"zero":false}},"y":{"datum":0,"scale":{"domain":[9.065,-5.516],"nice":false,"zero":false},"axis":null}}},
{"data":{"values":[{}]},"mark":{"type":"point","shape":"triangle-right","filled":true,"color":"#111","opacity":1,"size":200},"encoding":{"x":{"datum":-20.4,"scale":{"domain":[-37.1,35.6],"nice":false,"zero":false}},"y":{"datum":0,"scale":{"domain":[9.065,-5.516],"nice":false,"zero":false},"axis":null}}},
{"data":{"name":"lp"},"mark":{"type":"text","align":"left","baseline":"middle","fontSize":25,"color":"#111","font":"Liberation Serif, DejaVu Serif, serif"},"encoding":{"x":{"datum":-18.1,"scale":{"domain":[-37.1,35.6],"nice":false,"zero":false}},"y":{"field":"r","type":"quantitative","scale":{"domain":[9.065,-5.516],"nice":false,"zero":false},"axis":null},"text":{"field":"t1","type":"nominal"}}},
{"data":{"name":"lp"},"mark":{"type":"text","align":"left","baseline":"middle","fontSize":25,"color":"#111","font":"Liberation Serif, DejaVu Serif, serif"},"encoding":{"x":{"datum":-14.0,"scale":{"domain":[-37.1,35.6],"nice":false,"zero":false}},"y":{"field":"r","type":"quantitative","scale":{"domain":[9.065,-5.516],"nice":false,"zero":false},"axis":null},"text":{"field":"t2","type":"nominal"}}},
{"data":{"name":"lp"},"mark":{"type":"text","align":"left","baseline":"middle","fontSize":16,"dy":9,"color":"#111","font":"Liberation Serif, DejaVu Serif, serif"},"encoding":{"x":{"datum":-16.5,"scale":{"domain":[-37.1,35.6],"nice":false,"zero":false}},"y":{"field":"r","type":"quantitative","scale":{"domain":[9.065,-5.516],"nice":false,"zero":false},"axis":null},"text":{"field":"sf","type":"nominal"}}},
{"data":{"name":"lp"},"mark":{"type":"text","align":"left","baseline":"middle","fontSize":16,"dy":10,"color":"#111","font":"Liberation Serif, DejaVu Serif, serif"},"encoding":{"x":{"datum":-12.7,"scale":{"domain":[-37.1,35.6],"nice":false,"zero":false}},"y":{"field":"r","type":"quantitative","scale":{"domain":[9.065,-5.516],"nice":false,"zero":false},"axis":null},"text":{"field":"sub","type":"nominal"}}},
{"data":{"name":"lp"},"mark":{"type":"text","align":"left","baseline":"middle","fontSize":16,"dy":-4,"color":"#111","font":"Liberation Serif, DejaVu Serif, serif"},"encoding":{"x":{"datum":-11.7,"scale":{"domain":[-37.1,35.6],"nice":false,"zero":false}},"y":{"field":"r","type":"quantitative","scale":{"domain":[9.065,-5.516],"nice":false,"zero":false},"axis":null},"text":{"field":"sup","type":"nominal"}}},
{"data":{"name":"lp"},"mark":{"type":"text","align":"left","baseline":"middle","fontSize":16,"dy":10,"color":"#111","font":"Liberation Serif, DejaVu Serif, serif"},"encoding":{"x":{"datum":-10.5,"scale":{"domain":[-37.1,35.6],"nice":false,"zero":false}},"y":{"field":"r","type":"quantitative","scale":{"domain":[9.065,-5.516],"nice":false,"zero":false},"axis":null},"text":{"field":"sub2","type":"nominal"}}},
{"data":{"name":"lp"},"mark":{"type":"text","align":"left","baseline":"middle","fontSize":16,"dy":-5,"color":"#111","font":"Liberation Serif, DejaVu Serif, serif"},"encoding":{"x":{"datum":-8.1,"scale":{"domain":[-37.1,35.6],"nice":false,"zero":false}},"y":{"field":"r","type":"quantitative","scale":{"domain":[9.065,-5.516],"nice":false,"zero":false},"axis":null},"text":{"field":"sup2","type":"nominal"}}},
{"data":{"name":"lo"},"mark":{"type":"rule","strokeWidth":1.3},
"encoding":{"x":{"datum":13.5,"scale":{"domain":[-37.1,35.6],"nice":false,"zero":false}},"x2":{"datum":19.6},"y":{"field":"r","type":"quantitative","scale":{"domain":[12.765,-1.954],"nice":false,"zero":false},"axis":null},
"color":{"field":"s","type":"nominal","legend":null,"scale":{"domain":["Pd dz2","Pd dx2-y2","Pd dxz","Pd dxy","Pd dyz","Pd total","O5 2px","O6 2px","O5 2py","O6 2py","O5 2pz","O6 2pz","O5 total","O6 total"],"range":["#333","#666","#222","#222","#222","#222","#444","#555","#777","#888","#777","#666","#111","#222"]}},
"strokeDash":{"field":"s","type":"nominal","legend":null,"scale":{"domain":["Pd dz2","Pd dx2-y2","Pd dxz","Pd dxy","Pd dyz","Pd total","O5 2px","O6 2px","O5 2py","O6 2py","O5 2pz","O6 2pz","O5 total","O6 total"],"range":[[1,0],[1.2,1.5],[4,3],[9,3,2,3],[9,4],[1.5,1.5],[4,3],[9,3,2,3],[4,3],[9,3,2,3],[1,0],[1.2,1.5],[1,0],[1.5,1.5]]}}}},
{"data":{"name":"lo"},"mark":{"type":"text","align":"left","baseline":"middle","fontSize":25,"color":"#111","font":"Liberation Serif, DejaVu Serif, serif"},"encoding":{"x":{"datum":21.9,"scale":{"domain":[-37.1,35.6],"nice":false,"zero":false}},"y":{"field":"r","type":"quantitative","scale":{"domain":[12.765,-1.954],"nice":false,"zero":false},"axis":null},"text":{"field":"t1","type":"nominal"}}},
{"data":{"name":"lo"},"mark":{"type":"text","align":"left","baseline":"middle","fontSize":25,"color":"#111","font":"Liberation Serif, DejaVu Serif, serif"},"encoding":{"x":{"datum":26.5,"scale":{"domain":[-37.1,35.6],"nice":false,"zero":false}},"y":{"field":"r","type":"quantitative","scale":{"domain":[12.765,-1.954],"nice":false,"zero":false},"axis":null},"text":{"field":"t2","type":"nominal"}}},
{"data":{"name":"lo"},"mark":{"type":"text","align":"left","baseline":"middle","fontSize":16,"dy":10,"color":"#111","font":"Liberation Serif, DejaVu Serif, serif"},"encoding":{"x":{"datum":29.2,"scale":{"domain":[-37.1,35.6],"nice":false,"zero":false}},"y":{"field":"r","type":"quantitative","scale":{"domain":[12.765,-1.954],"nice":false,"zero":false},"axis":null},"text":{"field":"sub","type":"nominal"}}}
]
}
]
}
